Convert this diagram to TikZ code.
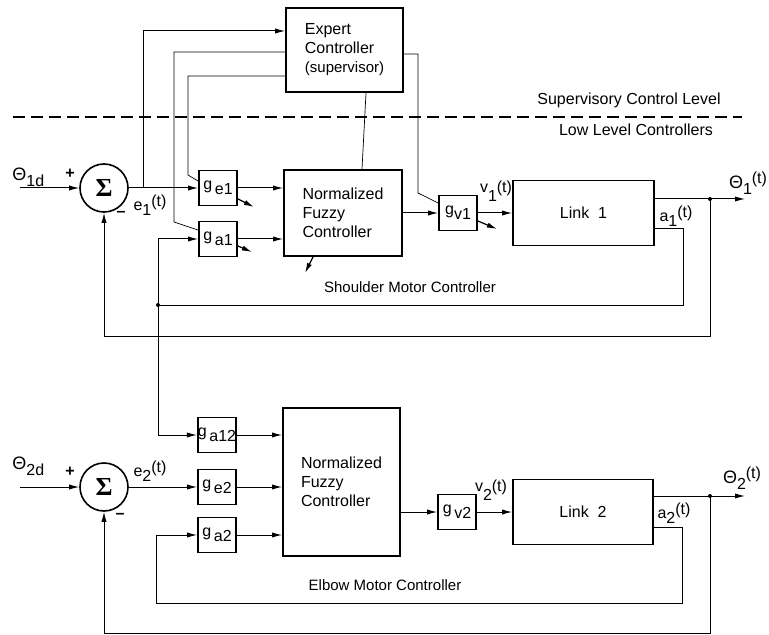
\documentclass[tikz,border=0pt]{standalone}
\usepackage{fontspec}
\setmainfont{Liberation Sans}
\newfontfamily\sigmafont{Liberation Serif}
\usetikzlibrary{arrows.meta}

\newcommand\lowsub[1]{\raisebox{-0.6ex}{#1}}
\newcommand\tpar{\raisebox{0.5ex}{\footnotesize(t)}}

\begin{document}
\begin{tikzpicture}[
    x=0.5pt, y=-0.5pt,
    every node/.style={font=\fontsize{8}{9.5}\selectfont},
    block/.style={draw, line width=0.9pt, inner sep=0pt, align=left},
    gain/.style={block, minimum width=19pt, minimum height=17.5pt},
    sumnode/.style={draw, circle, line width=0.8pt, minimum size=24pt, inner sep=0pt,
        font=\sigmafont\bfseries\fontsize{13}{13}\selectfont},
    arrow/.style={-{Latex[length=5pt,width=2.6pt]}, line width=0.5pt},
    link/.style={line width=0.35pt},
    adjust/.style={-{Latex[length=5pt,width=2.6pt]}, line width=0.6pt},
    dot/.style={circle, fill, inner sep=0pt, minimum size=2pt},
    lbl/.style={inner sep=0pt}
]
\useasboundingbox (0,0) rectangle (769,635);

% supervisory level
\node[block, minimum width=58.5pt, minimum height=42pt] (expert) at (344.5,50)
    {Expert\\Controller\\{\fontsize{7.5}{9}\selectfont(supervisor)}};
\draw[line width=1pt, dash pattern=on 6pt off 3pt] (13,117) -- (742,117);
\node[lbl] (suplevel) at (629,100) {Supervisory Control Level};
\node[lbl] (lowlevel) at (636,130) {Low Level Controllers};

% shoulder loop
\node[sumnode] (sum1) at (104,188) {Σ};
\node[gain] (ge1) at (218,188) {g\,\lowsub{e1}};
\node[gain] (ga1) at (218,239) {g\,\lowsub{a1}};
\node[block, minimum width=59pt, minimum height=43pt] (nfc1) at (343,213)
    {Normalized\\Fuzzy\\Controller};
\node[gain] (gv1) at (458,213) {g\lowsub{v1}};
\node[block, minimum width=70.5pt, minimum height=32.5pt] (link1) at (583.5,213)
    {Link\ \ 1};

\coordinate (in1) at (20,188);
\coordinate (br1) at (143,188);
\coordinate (out1) at (745,199);
\coordinate (fb1) at (104,337);
\coordinate (a1c) at (683,305);
\coordinate (s1) at (174,222);
\coordinate (s2) at (188,175);
\coordinate (s4) at (418,193);
\node[dot] (tap1) at (710,199) {};
\node[dot] (ja1) at (158,305) {};

\draw[arrow] (in1) -- (sum1);
\draw[arrow] (sum1) -- (ge1);
\draw[arrow] (br1) |- ([yshift=9.5pt]expert.west);
\draw[arrow] (ge1.east) -- (ge1.east -| nfc1.west);
\draw[arrow] (ga1.east) -- (ga1.east -| nfc1.west);
\draw[arrow] (nfc1) -- (gv1);
\draw[arrow] (gv1) -- (link1);
\draw[arrow] ([yshift=7pt]link1.east) -- (out1);
\draw[arrow] (tap1.center) |- (fb1) -- (sum1.south);
\draw[link] ([yshift=-7.5pt]link1.east) -| (a1c) -- (ja1.center);
\draw[arrow] (ja1.center) |- (ga1.west);

% supervisor outputs
\draw[link] ([yshift=-1pt]expert.west) -| (s1) -- ([yshift=4.5pt]ga1.west);
\draw[link] ([yshift=-13pt]expert.west) -| (s2) -- ([yshift=3.5pt]ge1.west);
\draw[link] ([xshift=10.75pt]expert.south) -- ([xshift=9.5pt]nfc1.north);
\draw[link] ([yshift=-2pt]expert.east) -| (s4) -- ([yshift=5pt]gv1.west);

% tuning arrows
\draw[adjust] ([yshift=-5.5pt]ge1.east) -- ++(16,8);
\draw[adjust] ([yshift=-3.5pt]ga1.east) -- ++(14,6);
\draw[adjust] ([xshift=-15pt]nfc1.south) -- ++(-8,16);
\draw[adjust] ([yshift=-4pt]gv1.east) -- ++(19,8);

\node[lbl, anchor=west] (th1d) at (12,177) {\fontsize{9}{9}\selectfont Θ\lowsub{\fontsize{8}{8}\selectfont 1d}};
\node[lbl] (plus1) at (70,174) {\textbf{+}};
\node[lbl] (minus1) at (121,214) {\textbf{–}};
\node[lbl] (e1) at (150,205) {e\lowsub{1}\tpar};
\node[lbl] (v1) at (496,191) {\raisebox{0.5ex}{v}\lowsub{1}\tpar};
\node[lbl] (th1) at (748,183) {\fontsize{9}{9}\selectfont Θ\lowsub{\fontsize{8}{8}\selectfont 1}\tpar};
\node[lbl] (a1t) at (676,216) {a\lowsub{1}\tpar};
\node[lbl] (shoulder) at (410,287) {\fontsize{7.5}{9}\selectfont Shoulder Motor Controller};

% elbow loop
\node[sumnode] (sum2) at (104,487) {Σ};
\node[gain] (ga12) at (217,435) {g\,\lowsub{a12}};
\node[gain] (ge2) at (217,487) {g\,\lowsub{e2}};
\node[gain] (ga2) at (217,535) {g\,\lowsub{a2}};
\node[block, minimum width=58.5pt, minimum height=74pt] (nfc2) at (341.5,482)
    {Normalized\\Fuzzy\\Controller};
\node[gain] (gv2) at (457,512) {g\,\lowsub{v2}};
\node[block, minimum width=70pt, minimum height=32.5pt] (link2) at (583,512)
    {Link\ \ 2};

\coordinate (in2) at (20,487);
\coordinate (out2) at (745,496);
\coordinate (fb2) at (104,633);
\coordinate (a2c) at (682,603);
\coordinate (a2l) at (156,603);
\node[dot] (tap2) at (710,496) {};

\draw[arrow] (ja1.center) |- (ga12.west);
\draw[arrow] (in2) -- (sum2);
\draw[arrow] (sum2) -- (ge2);
\draw[arrow] (ga12.east) -- (ga12.east -| nfc2.west);
\draw[arrow] (ge2.east) -- (ge2.east -| nfc2.west);
\draw[arrow] (ga2.east) -- (ga2.east -| nfc2.west);
\draw[arrow] ([yshift=-15pt]nfc2.east) -- (gv2);
\draw[arrow] (gv2) -- (link2);
\draw[arrow] ([yshift=8pt]link2.east) -- (out2);
\draw[arrow] (tap2.center) |- (fb2) -- (sum2.south);
\draw[arrow] ([yshift=-7.5pt]link2.east) -| (a2c) -- (a2l) |- (ga2.west);

\node[lbl, anchor=west] (th2d) at (12,466) {\fontsize{9}{9}\selectfont Θ\lowsub{\fontsize{8}{8}\selectfont 2d}};
\node[lbl] (plus2) at (70,472) {\textbf{+}};
\node[lbl] (minus2) at (120,516) {\textbf{–}};
\node[lbl] (e2) at (150,471) {e\lowsub{2}\tpar};
\node[lbl] (v2) at (491,490) {\raisebox{0.5ex}{v}\lowsub{2}\tpar};
\node[lbl] (th2) at (742,478) {\fontsize{9}{9}\selectfont Θ\lowsub{\fontsize{8}{8}\selectfont 2}\tpar};
\node[lbl] (a2t) at (674,513) {a\lowsub{2}\tpar};
\node[lbl] (elbow) at (385,585) {\fontsize{7.5}{9}\selectfont Elbow Motor Controller};

\end{tikzpicture}
\end{document}
